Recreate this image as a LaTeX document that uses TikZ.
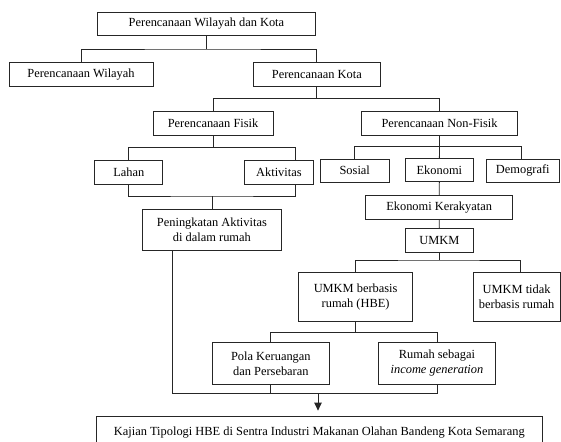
\documentclass[tikz,border=0pt]{standalone}
\usepackage{fontspec}
\setmainfont{Liberation Serif}
\usetikzlibrary{arrows.meta}

\tikzset{
  box/.style={draw=black!85, line width=0.8pt, align=center, inner sep=1pt,
    font=\fontsize{12.4}{15}\selectfont},
  link/.style={draw=black!85, line width=0.8pt},
}

\begin{document}
\begin{tikzpicture}[x=1pt, y=-1pt]
\useasboundingbox (0,0) rectangle (561,441);

% boxes
\node[box, minimum width=218.3pt, minimum height=22.3pt] (top) at (206.45,23.85) {Perencanaan Wilayah dan Kota};
\node[box, minimum width=144.2pt, minimum height=24.4pt] (wil) at (81,74.3) {Perencanaan Wilayah};
\node[box, minimum width=126.3pt, minimum height=24.4pt] (kota) at (316.85,74.3) {Perencanaan Kota};
\node[box, minimum width=119.9pt, minimum height=24pt] (fisik) at (213.05,123) {Perencanaan Fisik};
\node[box, minimum width=156.3pt, minimum height=24pt] (nonfisik) at (439.55,123) {Perencanaan Non-Fisik};
\node[box, minimum width=68pt, minimum height=23.6pt] (lahan) at (128.8,172.5) {Lahan};
\node[box, minimum width=68.4pt, minimum height=23.6pt] (aktiv) at (278.9,172.5) {Aktivitas};
\node[box, minimum width=68.3pt, minimum height=23pt] (sosial) at (354.75,170.5) {Sosial};
\node[box, minimum width=67.9pt, minimum height=23pt] (ekon) at (439.35,170.3) {Ekonomi};
\node[box, minimum width=72.4pt, minimum height=23pt] (demo) at (522.8,170.5) {Demografi};
\node[box, minimum width=139.6pt, minimum height=41.7pt] (pen) at (211.9,229.85) {Peningkatan Aktivitas\\di dalam rumah};
\node[box, minimum width=147.1pt, minimum height=23.7pt] (kerak) at (439.15,207.15) {Ekonomi Kerakyatan};
\node[box, minimum width=67.9pt, minimum height=24pt] (umkm) at (439.35,240.7) {UMKM};
\node[box, minimum width=113.8pt, minimum height=48.7pt] (hbe) at (355.6,296.65) {UMKM berbasis\\rumah (HBE)};
\node[box, minimum width=86.7pt, minimum height=48.7pt] (tidak) at (516.65,296.65) {UMKM tidak\\berbasis rumah};
\node[box, minimum width=116.3pt, minimum height=41.7pt] (pola) at (270.85,363.5) {Pola Keruangan\\dan Persebaran};
\node[box, minimum width=117pt, minimum height=41.7pt] (rumah) at (437,363.5) {Rumah sebagai\\\textit{income generation}};
\node[box, minimum width=446.8pt, minimum height=33pt] (kajian) at (319.3,432.5) {Kajian Tipologi HBE di Sentra Industri Makanan Olahan Bandeng Kota Semarang};

% branching points
\coordinate (b1) at (top.south |- 0,49);
\coordinate (b2) at (kota.south |- 0,98.3);
\coordinate (b3) at (fisik.south |- 0,147.3);
\coordinate (b4) at (pen.north |- 0,196);
\coordinate (b5) at (nonfisik.south |- 0,146.7);
\coordinate (b6) at (umkm.south |- 0,260);
\coordinate (b7) at (hbe.south |- 0,332.7);
\coordinate (b8) at ([xshift=-1.3pt]kajian.north |- 0,393.3);

% connectors
\draw[link] (top.south) -- (b1);
\draw[link] (wil.north) |- (b1) -| (kota.north);
\draw[link] (kota.south) -- (b2);
\draw[link] (fisik.north) |- (b2) -| (nonfisik.north);
\draw[link] (fisik.south) -- (b3);
\draw[link] (lahan.north) |- (b3) -| ([xshift=16.6pt]aktiv.north);
\draw[link] (lahan.south) |- (b4) -| ([xshift=16.6pt]aktiv.south);
\draw[link] (b4) -- (pen.north);
\draw[link] (nonfisik.south) -- (b5);
\draw[link] (sosial.north) |- (b5) -| ([xshift=-1.8pt]demo.north);
\draw[link] (b5) -- (ekon.north);
\draw[link] (ekon.south) -- (kerak.north);
\draw[link] (kerak.south) -- (umkm.north);
\draw[link] (umkm.south) -- (b6);
\draw[link] (hbe.north) |- (b6) -| ([xshift=4pt]tidak.north);
\draw[link] (hbe.south) -- (b7);
\draw[link] (pola.north) |- (b7) -| (rumah.north);
\draw[link] ([xshift=-39.2pt]pen.south) |- (b8) -| (rumah.south);
\draw[link] (pola.south) -- (pola.south |- b8);
\draw[link, -{Triangle[length=8pt,width=7.5pt]}, shorten >=5pt] (b8) -- (b8 |- kajian.north);

\end{tikzpicture}
\end{document}
